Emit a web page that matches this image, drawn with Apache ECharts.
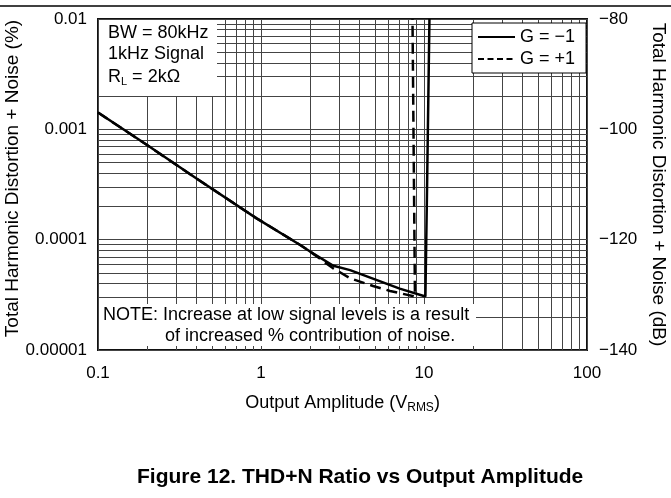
<!DOCTYPE html>
<html>
<head>
<meta charset="utf-8">
<script src="https://cdn.jsdelivr.net/npm/echarts@6/dist/echarts.min.js"></script>
<style>
  html, body { margin: 0; padding: 0; background: #fff; }
  #chart { width: 671px; height: 498px; }
</style>
</head>
<body>
<div id="chart"></div>
<script>
// G = -1 (solid)
const gNeg1X = [0.1, 0.2, 0.4, 0.94, 1.74, 2.0, 2.78, 3.52, 7.1, 10.2, 10.4, 10.8]
const gNeg1Y = [1.42e-3, 7.2e-4, 3.6e-4, 1.56e-4, 8.95e-5, 7.8e-5, 5.8e-5, 5.3e-5, 3.6e-5, 3.05e-5, 2e-4, 0.01]
// G = +1 (dashed)
const gPos1X = [0.1, 0.2, 0.4, 0.94, 1.74, 2.0, 2.77, 3.52, 4.87, 6.19, 8.8, 8.5]
const gPos1Y = [1.42e-3, 7.2e-4, 3.6e-4, 1.56e-4, 8.95e-5, 7.8e-5, 5.5e-5, 4.47e-5, 3.8e-5, 3.43e-5, 3.05e-5, 0.01]

const xRange = [0.1, 100]
const yRange = [0.00001, 0.01]
const xDecades = [0.1, 1, 10]
const yDecades = [0.00001, 0.0001, 0.001]
const minorSteps = [2, 3, 4, 5, 6, 7, 8, 9]
const xTickLabels = { '-1': '0.1', '0': '1', '1': '10', '2': '100' }
const yTickLabels = { '-5': '0.00001', '-4': '0.0001', '-3': '0.001', '-2': '0.01' }
const dbTicks = [-140, -120, -100, -80]
const dbLabels = ['−140', '−120', '−100', '−80']

const FONT = 'Liberation Sans, Arial, sans-serif'
const GRID_COLOR = '#444'

const pairs = (xs, ys) => xs.map((x, i) => [x, ys[i]])

// minor log grid lines, drawn as markLines between axis ends
const minorLines = []
xDecades.forEach((d) => minorSteps.forEach((m) => {
  const v = +(d * m).toPrecision(3)
  minorLines.push([{ coord: [v, yRange[0]] }, { coord: [v, yRange[1]] }])
}))
yDecades.forEach((d) => minorSteps.forEach((m) => {
  const v = +(d * m).toPrecision(3)
  minorLines.push([{ coord: [xRange[0], v] }, { coord: [xRange[1], v] }])
}))

const chart = echarts.init(document.getElementById('chart'), null, { renderer: 'canvas' })

const option = {
  animation: false,
  textStyle: { fontFamily: FONT },
  title: {
    text: 'Figure 12. THD+N Ratio vs Output Amplitude',
    left: 137,
    top: 467,
    padding: 0,
    textStyle: { fontFamily: FONT, fontSize: 21, fontWeight: 'bold', color: '#000' },
  },
  grid: {
    left: 98, right: 84, top: 19, bottom: 148,
    outerBoundsMode: 'none',
    containLabel: false,
    show: true, borderColor: '#111', borderWidth: 2, backgroundColor: 'transparent',
  },
  legend: {
    data: [
      { name: 'G = −1' },
      { name: 'G = +1', lineStyle: { type: [6, 3.5] } },
    ],
    orient: 'vertical',
    left: 472, top: 23,
    itemWidth: 37, itemHeight: 14, itemGap: 4,
    padding: [5, 11, 5, 5],
    backgroundColor: '#fff',
    borderColor: '#000', borderWidth: 1,
    itemStyle: { color: 'rgba(0,0,0,0)', borderWidth: 0, opacity: 0 },
    textStyle: { fontFamily: FONT, fontSize: 18, color: '#000' },
  },
  xAxis: {
    type: 'log', logBase: 10, min: xRange[0], max: xRange[1],
    name: 'Output Amplitude (V{s|RMS})',
    nameLocation: 'middle', nameGap: 44,
    nameTextStyle: {
      fontFamily: FONT, fontSize: 18, color: '#000',
      rich: { s: { fontSize: 12, lineHeight: 12, padding: [9, 0, 0, 0], color: '#000' } },
    },
    axisLine: { show: false }, axisTick: { show: false },
    axisLabel: {
      color: '#000', fontSize: 17, margin: 15,
      formatter: (v) => xTickLabels[Math.round(Math.log10(v))],
    },
    splitLine: { show: true, lineStyle: { color: GRID_COLOR, width: 1 } },
  },
  yAxis: [
    {
      type: 'log', logBase: 10, min: yRange[0], max: yRange[1],
      name: 'Total Harmonic Distortion + Noise (%)',
      nameLocation: 'middle', nameRotate: 90, nameGap: 76,
      nameMoveOverlap: false,
      nameTextStyle: { fontFamily: FONT, fontSize: 19, color: '#000', padding: [0, 0, 0, 12] },
      axisLine: { show: false }, axisTick: { show: false },
      axisLabel: {
        color: '#000', fontSize: 17, margin: 11,
        formatter: (v) => yTickLabels[Math.round(Math.log10(v))],
      },
      splitLine: { show: true, lineStyle: { color: GRID_COLOR, width: 1 } },
    },
    {
      type: 'value', position: 'right', min: -140, max: -80, interval: 20,
      name: 'Total Harmonic Distortion + Noise (dB)',
      nameLocation: 'middle', nameRotate: -90, nameGap: 62,
      nameMoveOverlap: false,
      nameTextStyle: { fontFamily: FONT, fontSize: 19, color: '#000' },
      axisLine: { show: false }, axisTick: { show: false },
      axisLabel: {
        color: '#000', fontSize: 17, margin: 12,
        formatter: (v) => dbLabels[dbTicks.indexOf(v)],
      },
      splitLine: { show: false },
    },
  ],
  series: [
    {
      name: 'grid-minor',
      type: 'line',
      data: [],
      z: 1,
      silent: true,
      markLine: {
        z: 1,
        silent: true,
        symbol: 'none',
        animation: false,
        label: { show: false },
        lineStyle: { color: GRID_COLOR, width: 1, type: 'solid' },
        emphasis: { disabled: true },
        data: minorLines,
      },
    },
    {
      name: 'G = −1',
      type: 'line',
      data: pairs(gNeg1X, gNeg1Y),
      symbol: 'none',
      z: 3,
      lineStyle: { color: '#000', width: 2.5 },
      itemStyle: { color: '#000' },
    },
    {
      name: 'G = +1',
      type: 'line',
      data: pairs(gPos1X, gPos1Y),
      symbol: 'none',
      z: 3,
      lineStyle: { color: '#000', width: 2.5, type: [11, 6] },
      itemStyle: { color: '#000' },
    },
  ],
  graphic: [
    { type: 'line', z: 100, shape: { x1: 0, y1: 6, x2: 671, y2: 6 }, style: { stroke: '#000', lineWidth: 1.5 } },
    { type: 'rect', z: 100, shape: { x: 99, y: 20, width: 118, height: 76 }, style: { fill: '#fff' } },
    { type: 'text', z: 101, x: 108, y: 33, style: { text: 'BW = 80kHz', font: '18px ' + FONT, fill: '#000', verticalAlign: 'middle' } },
    { type: 'text', z: 101, x: 108, y: 54, style: { text: '1kHz Signal', font: '18px ' + FONT, fill: '#000', verticalAlign: 'middle' } },
    {
      type: 'text', z: 101, x: 108, y: 67,
      style: {
        text: '{n|R}{s|L}{n| = 2kΩ}',
        fill: '#000',
        rich: {
          n: { fontFamily: FONT, fontSize: 18, lineHeight: 21, color: '#000' },
          s: { fontFamily: FONT, fontSize: 11, lineHeight: 12, padding: [9, 0, 0, 0], color: '#000' },
        },
      },
    },
    { type: 'rect', z: 100, shape: { x: 99, y: 304, width: 377, height: 42 }, style: { fill: '#fff' } },
    { type: 'text', z: 101, x: 103, y: 315, style: { text: 'NOTE: Increase at low signal levels is a result', font: '18px ' + FONT, fill: '#000', verticalAlign: 'middle' } },
    { type: 'text', z: 101, x: 165, y: 336, style: { text: 'of increased % contribution of noise.', font: '18px ' + FONT, fill: '#000', verticalAlign: 'middle' } },
  ],
}

chart.setOption(option)
</script>
</body>
</html>
